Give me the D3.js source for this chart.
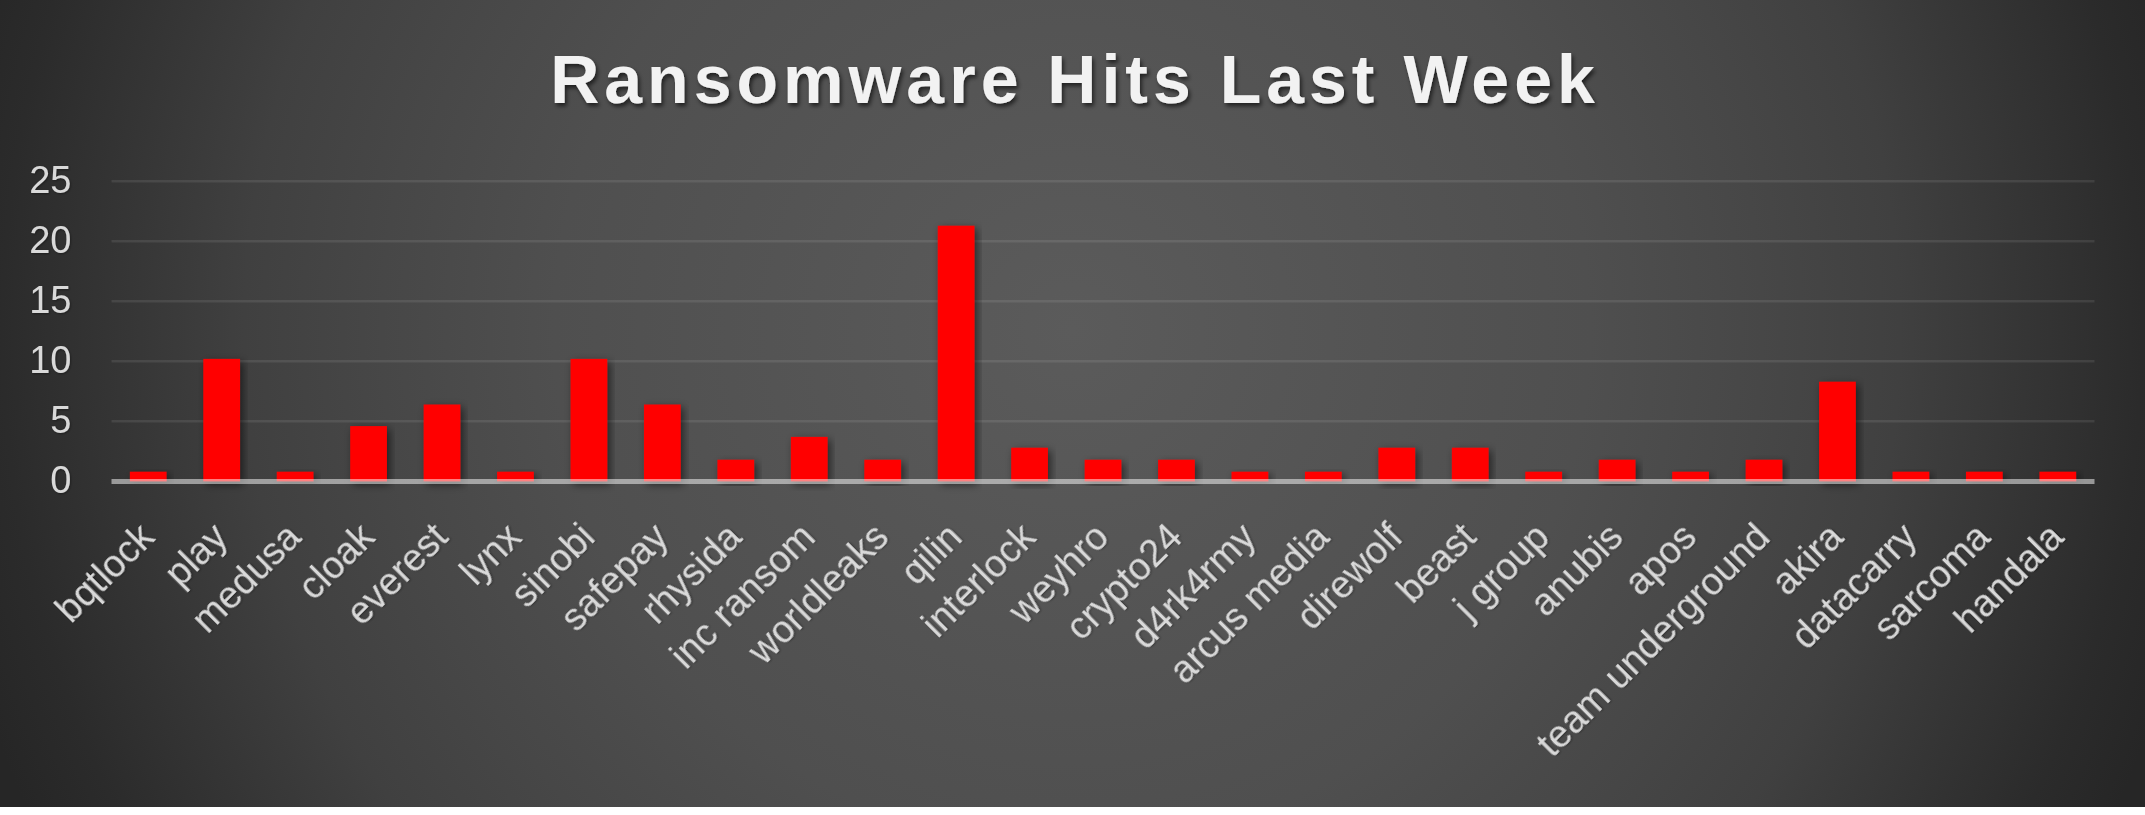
<!DOCTYPE html>
<html>
<head>
<meta charset="utf-8">
<title>Ransomware Hits Last Week</title>
<script src="https://cdn.jsdelivr.net/npm/d3@7"></script>
<style>
  html, body { margin: 0; padding: 0; background: #ffffff; overflow: hidden; }
  #container { width: 2145px; height: 815px; }
  text { font-family: "Liberation Sans", Arial, sans-serif; }
</style>
</head>
<body>
<div id="container"></div>
<script>
// Chart data
const groups = [
  'bqtlock', 'play', 'medusa', 'cloak', 'everest', 'lynx', 'sinobi', 'safepay',
  'rhysida', 'inc ransom', 'worldleaks', 'qilin', 'interlock', 'weyhro',
  'crypto24', 'd4rk4rmy', 'arcus media', 'direwolf', 'beast', 'j group',
  'anubis', 'apos', 'team underground', 'akira', 'datacarry', 'sarcoma', 'handala'
];
const hits = [
  0.8, 10.2, 0.8, 4.6, 6.4, 0.8, 10.2, 6.4,
  1.8, 3.7, 1.8, 21.3, 2.8, 1.8,
  1.8, 0.8, 0.8, 2.8, 2.8, 0.8,
  1.8, 0.8, 1.8, 8.3, 0.8, 0.8, 0.8
];
const yTicks = [0, 5, 10, 15, 20, 25];
const chartTitle = 'Ransomware Hits Last Week';

const width = 2145;
const height = 815;
const bgHeight = 807;
const plot = { left: 111.5, right: 2094.5, top: 181.3, bottom: 481.3 };

const svg = d3.select('#container').append('svg')
  .attr('width', width)
  .attr('height', height);

const defs = svg.append('defs');

// background radial gradient (light centre, dark corners)
const grad = defs.append('radialGradient')
  .attr('id', 'bg')
  .attr('gradientUnits', 'userSpaceOnUse')
  .attr('cx', 1072).attr('cy', 330).attr('r', 1150);
[[0, '#5b5b5b'], [0.45, '#4f4f4f'], [0.6, '#474747'], [0.72, '#404040'],
 [0.93, '#2b2b2b'], [1, '#262626']].forEach(s => {
  grad.append('stop').attr('offset', s[0]).attr('stop-color', s[1]);
});

// soft shadows
function shadow(id, dx, dy, sd, op) {
  defs.append('filter')
    .attr('id', id)
    .attr('x', '-20%').attr('y', '-20%').attr('width', '140%').attr('height', '140%')
    .append('feDropShadow')
      .attr('dx', dx).attr('dy', dy)
      .attr('stdDeviation', sd)
      .attr('flood-color', '#000')
      .attr('flood-opacity', op);
}
shadow('barShadow', 3, 3, 4, 0.55);
shadow('titleShadow', 2, 3, 2, 0.6);
shadow('textShadow', 1, 1, 1, 0.35);

svg.append('rect')
  .attr('width', width)
  .attr('height', bgHeight)
  .attr('fill', 'url(#bg)');

// scales
const x = d3.scaleBand()
  .domain(groups)
  .range([plot.left, plot.right])
  .paddingInner(0.5)
  .paddingOuter(0.25);

const y = d3.scaleLinear()
  .domain([0, 25])
  .range([plot.bottom, plot.top]);

// gridlines
svg.append('g')
  .selectAll('line')
  .data(yTicks.filter(d => d > 0))
  .join('line')
    .attr('x1', plot.left)
    .attr('x2', plot.right)
    .attr('y1', d => y(d))
    .attr('y2', d => y(d))
    .attr('stroke', '#ffffff')
    .attr('stroke-opacity', 0.09)
    .attr('stroke-width', 2.5);

// y axis labels
const yAxis = svg.append('g')
  .attr('transform', `translate(${plot.left},0)`)
  .call(d3.axisLeft(y).tickValues(yTicks).tickSize(0).tickPadding(40));
yAxis.select('.domain').remove();
yAxis.selectAll('text')
  .attr('fill', '#d9d9d9')
  .attr('font-size', 38)
  .attr('dy', '0.3em')
  .attr('filter', 'url(#textShadow)')
  .style('font-family', '"Liberation Sans", Arial, sans-serif');

// bars
svg.append('g')
  .selectAll('rect')
  .data(groups.map((g, i) => ({ g, v: hits[i] })))
  .join('rect')
    .attr('x', d => x(d.g))
    .attr('width', x.bandwidth())
    .attr('y', d => y(d.v))
    .attr('height', d => y(0) - y(d.v))
    .attr('fill', '#ff0000')
    .attr('filter', 'url(#barShadow)');

// zero line on top of the bars
svg.append('line')
  .attr('x1', plot.left)
  .attr('x2', plot.right)
  .attr('y1', y(0) + 0.2)
  .attr('y2', y(0) + 0.2)
  .attr('stroke', '#ffffff')
  .attr('stroke-opacity', 0.5)
  .attr('stroke-width', 5);

// x axis labels, rotated
const xAxis = svg.append('g')
  .attr('transform', `translate(8,${y(0) + 58})`)
  .call(d3.axisBottom(x).tickSize(0).tickPadding(0));
xAxis.select('.domain').remove();
xAxis.selectAll('text')
  .attr('fill', '#d9d9d9')
  .attr('font-size', 38)
  .attr('y', 0)
  .attr('dy', 0)
  .attr('text-anchor', 'end')
  .attr('transform', 'rotate(-45)')
  .attr('filter', 'url(#textShadow)')
  .style('font-family', '"Liberation Sans", Arial, sans-serif');

// title
svg.append('text')
  .attr('x', 1075)
  .attr('y', 103)
  .attr('text-anchor', 'middle')
  .attr('fill', '#f2f2f2')
  .attr('font-size', 68)
  .attr('font-weight', 'bold')
  .attr('letter-spacing', 5)
  .attr('filter', 'url(#titleShadow)')
  .text(chartTitle);
</script>
</body>
</html>
